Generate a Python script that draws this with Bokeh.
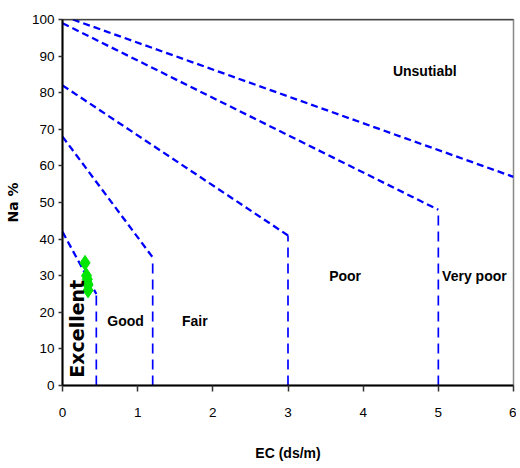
import math
from bokeh.plotting import figure
from bokeh.models import Span, FixedTicker
from bokeh.core.properties import value
from bokeh.embed import file_html
from bokeh.resources import INLINE

# Boundary lines (EC in ds/m, Na %)
slant_x0 = [0, 0, 0, 0, 0]
slant_y0 = [101, 99, 82, 68, 42]
slant_x1 = [6, 5, 3, 1.2, 0.45]
slant_y1 = [57, 48, 41, 35, 25]

vert_x = [5, 3, 1.2, 0.45]
vert_top = [48, 41, 35, 25]
vert_bottom = [0, 0, 0, 0]

# Samples
sample_ec = [0.30, 0.32, 0.33, 0.34, 0.34, 0.33]
sample_na = [33.5, 30.0, 29.0, 27.5, 26.0, 28.0]

# Zone labels
zone_names = ["Unsutiabl", "Very poor", "Poor", "Fair", "Good"]
zone_x = [4.82, 5.48, 3.76, 1.76, 0.84]
zone_y = [86, 29.8, 29.8, 17.5, 17.5]

x_ticks = [0, 1, 2, 3, 4, 5, 6]
y_ticks = [0, 10, 20, 30, 40, 50, 60, 70, 80, 90, 100]

SANS = "Liberation Sans"

p = figure(width=516, height=466, x_range=(0, 6), y_range=(0, 100),
           output_backend="svg", toolbar_location=None,
           min_border_left=62, min_border_right=3, min_border_top=19, min_border_bottom=81)
p.grid.visible = False
p.outline_line_color = "#888888"
p.outline_line_width = 1.5
p.background_fill_color = "white"
p.border_fill_color = "white"

p.segment(slant_x0, slant_y0, slant_x1, slant_y1, line_color="#0000ff",
          line_width=2.3, line_dash="7 4")
p.segment(vert_x, vert_bottom, vert_x, vert_top, line_color="#0000ff",
          line_width=1.7, line_dash="10 6")

p.scatter(sample_ec, sample_na, marker="diamond", size=15,
          fill_color="#00e600", line_color="#00e600")

p.text(zone_x, zone_y, text=zone_names, text_font=value(SANS),
       text_font_style="bold", text_font_size="14px", text_align="center",
       text_baseline="middle", text_color="black")
p.text([0.19], [15.5], text=["Excellent"], angle=math.pi / 2,
       text_font=value("DejaVu Sans"), text_font_style="bold",
       text_font_size="19px", text_align="center", text_baseline="middle",
       text_color="black")

p.add_layout(Span(location=100, dimension="width", line_color="black", line_width=1.5))

p.xaxis.ticker = FixedTicker(ticks=x_ticks)
p.yaxis.ticker = FixedTicker(ticks=y_ticks)
for ax in (p.xaxis[0], p.yaxis[0]):
    ax.axis_line_color = "black"
    ax.axis_line_width = 2
    ax.major_tick_line_color = "#333333"
    ax.major_tick_line_width = 1.5
    ax.minor_tick_line_color = None
    ax.major_tick_in = 0
    ax.major_label_text_font = SANS
    ax.major_label_text_font_size = "13.5px"
    ax.major_label_text_color = "black"
    ax.axis_label_text_color = "black"
    ax.axis_label_text_font_style = "bold"

p.xaxis.major_tick_out = 6
p.xaxis.major_label_standoff = 16
p.xaxis.axis_label = "EC (ds/m)"
p.xaxis.axis_label_text_font = SANS
p.xaxis.axis_label_text_font_size = "14px"
p.xaxis.axis_label_standoff = 25

p.yaxis.major_tick_out = 4
p.yaxis.major_label_standoff = 4
p.yaxis.axis_label = "Na %"
p.yaxis.axis_label_text_font = "DejaVu Sans"
p.yaxis.axis_label_text_font_size = "14px"
p.yaxis.axis_label_standoff = 8

open("out.html", "w").write(file_html(p, INLINE))
